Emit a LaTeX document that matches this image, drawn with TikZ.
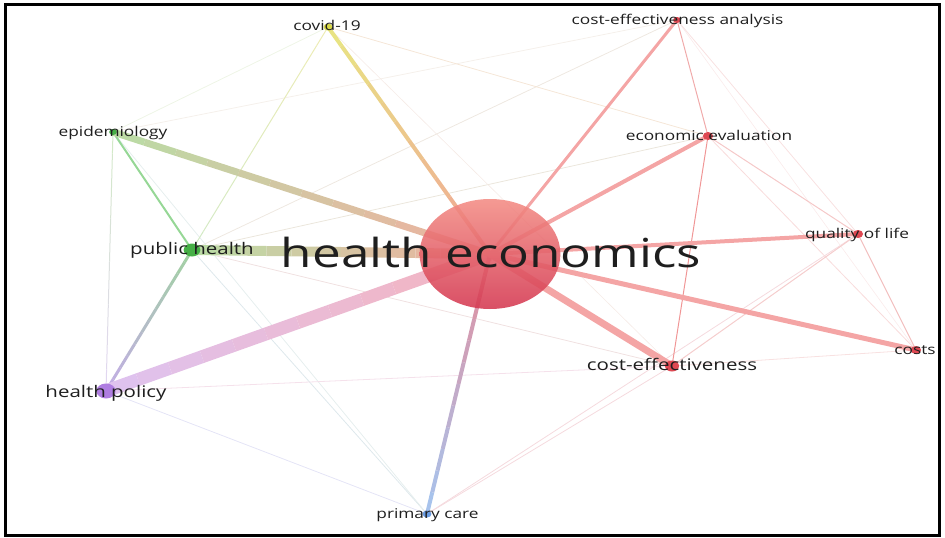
\documentclass[tikz,border=0pt]{standalone}
\usepackage{fontspec}
\setmainfont{Open Sans}
\usetikzlibrary{shapes.geometric,calc}
\definecolor{txtGray}{RGB}{30,30,30}
\definecolor{kwRed}{RGB}{222,72,82}
\definecolor{kwGreen}{RGB}{70,175,70}
\definecolor{kwViolet}{RGB}{175,125,225}
\definecolor{kwBlue}{RGB}{105,155,225}
\definecolor{kwYellow}{RGB}{215,215,70}
\definecolor{heTop}{RGB}{243,140,132}
\definecolor{heBottom}{RGB}{212,55,80}
\definecolor{lnRed}{RGB}{244,165,165}
\definecolor{lnTan}{RGB}{240,175,160}
\definecolor{lnPink}{RGB}{245,180,190}
\definecolor{lnOrange}{RGB}{240,165,150}
\definecolor{lnCrimson}{RGB}{228,140,155}
\definecolor{lnGreen}{RGB}{185,220,165}
\definecolor{lnViolet}{RGB}{222,195,240}
\definecolor{lnYellow}{RGB}{232,230,130}
\definecolor{lnBlue}{RGB}{165,198,240}
\definecolor{phGreen}{RGB}{160,210,160}
\definecolor{phViolet}{RGB}{195,172,230}
\definecolor{paleGreen}{RGB}{210,234,198}
\definecolor{paleYellow}{RGB}{238,236,180}
\definecolor{paleViolet}{RGB}{226,214,242}
% link that fades from one cluster colour to the other
\newcommand{\fadelink}[5]{%
  \foreach \k in {1,...,12}{%
    \pgfmathtruncatemacro{\mixp}{100-(\k-0.5)*100/12}%
    \draw[line width=#1,color=#2!\mixp!#3] ($(#4)!{(\k-1)/12}!(#5)$) -- ($(#4)!{\k/12}!(#5)$);
  }}

\begin{document}
\begin{tikzpicture}[x=1pt,y=-1pt,
    link/.style={line cap=round},
    lbl/.style={anchor=base,inner sep=0pt,xscale=1.28,text=txtGray,font=\fontsize{13.5}{15}\selectfont},
    lblmid/.style={lbl,font=\fontsize{16}{18}\selectfont},
    kwdot/.style={ellipse,inner sep=0pt,draw=none,minimum height=#1,minimum width=1.28*#1}]
    \useasboundingbox (0,0) rectangle (945,538);

    % keyword positions
    \coordinate (he) at (490,254);
    \coordinate (pubh) at (192,250);
    \coordinate (epid) at (113,132);
    \coordinate (covid) at (328,27);
    \coordinate (cea) at (677,20);
    \coordinate (econ) at (708,136);
    \coordinate (qol) at (858,234);
    \coordinate (costs) at (916,350);
    \coordinate (ce) at (672,366);
    \coordinate (hpol) at (106,391);
    \coordinate (prim) at (427,514);

    % faint links
    \draw[link,line width=0.8pt,color={rgb,255:red,238;green,245;blue,230}] (epid) -- (covid);
    \draw[link,line width=0.8pt,color={rgb,255:red,245;green,240;blue,235}] (epid) -- (cea);
    \draw[link,line width=0.8pt,color={rgb,255:red,238;green,232;blue,225}] (pubh) -- (cea);
    \draw[link,line width=0.8pt,color={rgb,255:red,235;green,230;blue,220}] (pubh) -- (econ);
    \draw[link,line width=0.8pt,color={rgb,255:red,245;green,230;blue,215}] (covid) -- (econ);
    \draw[link,line width=0.6pt,color={rgb,255:red,245;green,235;blue,230}] (covid) -- (ce);
    \draw[link,line width=0.8pt,color={rgb,255:red,240;green,225;blue,225}] (pubh) -- (ce);
    \draw[link,line width=0.8pt,color={rgb,255:red,222;green,232;blue,236}] (pubh) -- (prim);
    \draw[link,line width=0.8pt,color={rgb,255:red,230;green,238;blue,238}] (epid) -- (prim);
    \draw[link,line width=0.8pt,color={rgb,255:red,228;green,228;blue,246}] (hpol) -- (prim);
    \draw[link,line width=0.8pt,color={rgb,255:red,245;green,225;blue,235}] (hpol) -- (ce);
    \draw[link,line width=0.8pt,color={rgb,255:red,245;green,218;blue,222}] (ce) -- (prim);
    \draw[link,line width=0.8pt,color={rgb,255:red,245;green,218;blue,222}] (qol) -- (prim);
    \draw[link,line width=0.8pt,color={rgb,255:red,248;green,225;blue,225}] (ce) -- (costs);
    \draw[link,line width=0.6pt,color={rgb,255:red,250;green,235;blue,235}] (cea) -- (costs);
    \draw[link,line width=0.8pt,color={rgb,255:red,248;green,225;blue,225}] (cea) -- (qol);
    \draw[link,line width=0.8pt,color={rgb,255:red,248;green,220;blue,220}] (econ) -- (costs);
    \draw[link,line width=1pt,color={rgb,255:red,245;green,200;blue,200}] (econ) -- (qol);
    \draw[link,line width=1pt,color={rgb,255:red,245;green,205;blue,205}] (qol) -- (ce);
    \draw[link,line width=1pt,color={rgb,255:red,242;green,190;blue,190}] (qol) -- (costs);
    \draw[link,line width=1pt,color={rgb,255:red,240;green,170;blue,170}] (cea) -- (econ);
    \draw[link,line width=1pt,color={rgb,255:red,240;green,150;blue,150}] (econ) -- (ce);
    \fadelink{1pt}{paleGreen}{paleYellow}{pubh}{covid}
    \fadelink{1pt}{paleGreen}{paleViolet}{epid}{hpol}
    \draw[link,line width=2pt,color={rgb,255:red,150;green,215;blue,150}] (epid) -- (pubh);
    \fadelink{3pt}{phGreen}{phViolet}{pubh}{hpol}

    % links of health economics
    \fadelink{10pt}{lnGreen}{lnTan}{pubh}{he}
    \fadelink{13pt}{lnViolet}{lnPink}{hpol}{he}
    \fadelink{7pt}{lnGreen}{lnTan}{epid}{he}
    \fadelink{4pt}{lnYellow}{lnOrange}{covid}{he}
    \fadelink{4pt}{lnBlue}{lnCrimson}{prim}{he}
    \draw[link,line width=3pt,color=lnRed] (he) -- (cea);
    \draw[link,line width=4pt,color=lnRed] (he) -- (econ);
    \draw[link,line width=4pt,color=lnRed] (he) -- (qol);
    \draw[link,line width=5pt,color=lnRed] (he) -- (costs);
    \draw[link,line width=7pt,color=lnRed] (he) -- (ce);

    % keyword circles
    \node[kwdot=110pt,shading=axis,top color=heTop,bottom color=heBottom,fill opacity=0.88] (heDot) at (he) {};
    \node[kwdot=13pt,fill=kwGreen] (pubhDot) at (pubh) {};
    \node[kwdot=6pt,fill=kwGreen] (epidDot) at (epid) {};
    \node[kwdot=7pt,fill=kwYellow] (covidDot) at (covid) {};
    \node[kwdot=6pt,fill=kwRed] (ceaDot) at (cea) {};
    \node[kwdot=8pt,fill=kwRed] (econDot) at (econ) {};
    \node[kwdot=8pt,fill=kwRed] (qolDot) at (qol) {};
    \node[kwdot=8pt,fill=kwRed] (costsDot) at (costs) {};
    \node[kwdot=11pt,fill=kwRed] (ceDot) at (ce) {};
    \node[kwdot=15pt,fill=kwViolet] (hpolDot) at (hpol) {};
    \node[kwdot=7pt,fill=kwBlue] (primDot) at (prim) {};

    % labels
    \node[lbl,font=\fontsize{40}{44}\selectfont] (heLbl) at (491,267) {health economics};
    \node[lblmid] (pubhLbl) at (192,254) {public health};
    \node[lblmid] (hpolLbl) at (106,397) {health policy};
    \node[lblmid] (ceLbl) at (672,370.5) {cost-effectiveness};
    \node[lbl] (epidLbl) at (113,136.5) {epidemiology};
    \node[lbl] (covidLbl) at (327,30.5) {covid-19};
    \node[lbl] (ceaLbl) at (677.5,24.3) {cost-effectiveness analysis};
    \node[lbl] (econLbl) at (709,140) {economic evaluation};
    \node[lbl] (qolLbl) at (857,238.3) {quality of life};
    \node[lbl] (costsLbl) at (915,354) {costs};
    \node[lbl] (primLbl) at (427.5,518.3) {primary care};

    % frame
    \draw[line width=3pt] (5.5,4.5) rectangle (939.5,535.5);
\end{tikzpicture}
\end{document}
